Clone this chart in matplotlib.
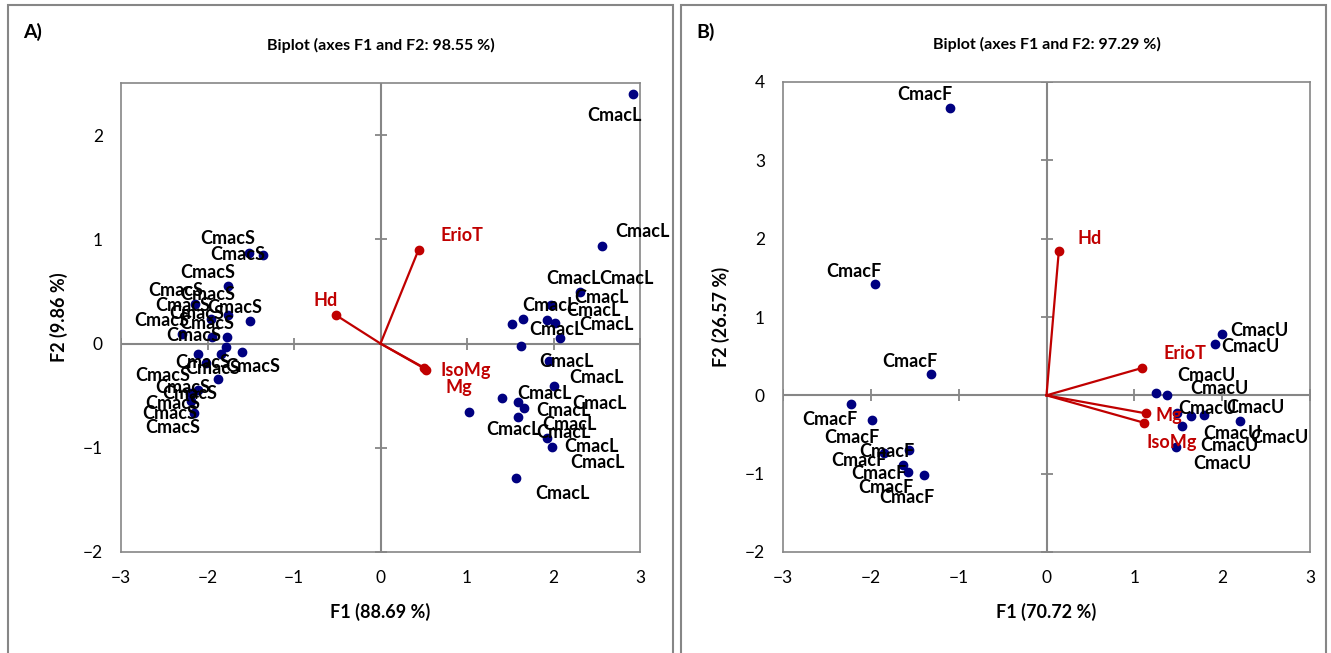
import matplotlib
matplotlib.use("Agg")
import matplotlib.pyplot as plt
from matplotlib.patches import Rectangle

plt.rcParams['font.family'] = ['Lato', 'DejaVu Sans']

# ---- panel A data ----
a_S_x = [-1.52, -1.36, -1.76, -2.14, -1.76, -1.51, -1.96, -1.77, -1.95, -2.30,
         -1.79, -1.84, -1.60, -2.11, -2.02, -1.88, -2.11, -2.20, -2.19, -2.16]
a_S_y = [0.87, 0.85, 0.55, 0.38, 0.27, 0.22, 0.24, 0.06, 0.06, 0.09,
         -0.03, -0.10, -0.08, -0.10, -0.19, -0.34, -0.45, -0.47, -0.55, -0.67]
a_L_x = [2.92, 2.56, 2.31, 1.97, 1.65, 1.52, 1.93, 2.02, 2.07, 1.62,
         1.95, 2.00, 1.41, 1.59, 1.66, 1.02, 1.59, 1.93, 1.98, 1.57]
a_L_y = [2.39, 0.94, 0.49, 0.37, 0.24, 0.19, 0.23, 0.20, 0.05, -0.02,
         -0.17, -0.41, -0.52, -0.56, -0.62, -0.66, -0.70, -0.91, -0.99, -1.29]
a_var_names = ["ErioT", "Hd", "IsoMg", "Mg"]
a_var_x = [0.44, -0.51, 0.53, 0.50]
a_var_y = [0.90, 0.27, -0.25, -0.23]

# ---- panel B data ----
b_F_x = [-1.10, -1.95, -1.31, -2.23, -1.99, -1.85, -1.56, -1.63, -1.58, -1.40]
b_F_y = [3.67, 1.42, 0.27, -0.11, -0.32, -0.74, -0.70, -0.89, -0.98, -1.02]
b_U_x = [2.00, 1.92, 1.25, 1.37, 1.49, 1.79, 2.20, 1.64, 1.54, 1.47]
b_U_y = [0.78, 0.66, 0.03, 0.00, -0.23, -0.25, -0.33, -0.27, -0.39, -0.66]
b_var_names = ["Hd", "ErioT", "Mg", "IsoMg"]
b_var_x = [0.14, 1.09, 1.13, 1.11]
b_var_y = [1.84, 0.35, -0.23, -0.35]

# label offsets in pixels (dx right, dy down)
a_S_off = [(-21, -14), (-25, 0), (-21, -14), (-20, -13), (-21, -21), (-15, -13), (-28, -13),
           (-21, -14), (-15, -24), (-20, -14), (-32, -11), (-19, 9), (11, 15), (15, 15),
           (-43, 12), (-35, 9), (-25, 13), (0, 1), (-21, 13), (-21, 14)]
a_L_off = [(-19, 21), (40, -14), (46, -14), (23, -26), (26, -13), (44, 6), (46, -9),
           (46, -25), (47, -14), (46, 16), (47, 16), (46, 17), (42, -4), (45, 9),
           (45, 16), (45, 17), (45, 16), (44, 8), (46, 16), (46, 15)]
a_var_off = [(43, -14), (-11, -15), (39, 1), (35, 20)]
b_F_off = [(-25, -13), (-21, -13), (-22, -13), (-21, 16), (-20, 17), (-25, 7), (-23, 1),
           (-24, 8), (-22, 15), (-17, 22)]
b_U_off = [(37, -4), (35, 3), (50, -17), (53, -7), (30, -5), (52, -7), (40, 16),
           (42, 17), (48, 20), (47, 16)]
b_var_off = [(31, -13), (43, -14), (23, 2), (28, 20)]

NAVY = "#000080"
RED = "#C00000"
GRAY = "#868686"
FS = 13


def label_points(ax, xs, ys, name, offsets, color):
    for x, y, (dx, dy) in zip(xs, ys, offsets):
        ax.annotate(name, (x, y), xytext=(dx, -dy), textcoords="offset pixels",
                    ha="center", va="center", fontsize=FS, fontweight="bold", color=color)


def biplot(ax, groups, var_names, var_x, var_y, var_off, xlim, ylim, yticks, title, xlabel, ylabel):
    ax.set_xlim(*xlim)
    ax.set_ylim(*ylim)
    ax.axhline(0, color=GRAY, lw=1.5, zorder=1)
    ax.axvline(0, color=GRAY, lw=1.5, zorder=1)
    xticks = list(range(xlim[0], xlim[1] + 1))
    ax.plot(xticks, [0] * len(xticks), ls="none", marker="|", ms=8, mew=1.3, color=GRAY, zorder=1)
    ax.plot([0] * len(yticks), yticks, ls="none", marker="_", ms=8, mew=1.3, color=GRAY, zorder=1)
    ax.set_xticks(xticks)
    ax.set_yticks(yticks)
    ax.tick_params(length=0, labelsize=12.5, pad=13)
    for s in ax.spines.values():
        s.set_color(GRAY)
        s.set_linewidth(1.2)

    for xs, ys, name, offs in groups:
        ax.scatter(xs, ys, s=36, color=NAVY, zorder=3)
        label_points(ax, xs, ys, name, offs, "black")

    for n, x, y in zip(var_names, var_x, var_y):
        ax.plot([0, x], [0, y], color=RED, lw=1.6, zorder=4)
    ax.scatter(var_x, var_y, s=36, color=RED, zorder=4)
    for n, x, y, (dx, dy) in zip(var_names, var_x, var_y, var_off):
        ax.annotate(n, (x, y), xytext=(dx, -dy), textcoords="offset pixels",
                    ha="center", va="center", fontsize=FS, fontweight="bold", color=RED, zorder=5)

    ax.set_title(title, fontsize=11.5, fontweight="bold", pad=24)
    ax.set_xlabel(xlabel, fontsize=13, fontweight="bold", labelpad=12)
    ax.set_ylabel(ylabel, fontsize=13, fontweight="bold", labelpad=11)


fig = plt.figure(figsize=(13.31, 6.53), dpi=100)
axA = fig.add_axes([121 / 1331, 1 - 552 / 653, (640 - 121) / 1331, (552 - 83) / 653])
axB = fig.add_axes([783 / 1331, 1 - 552 / 653, (1310 - 783) / 1331, (552 - 82) / 653])

biplot(axA, [(a_S_x, a_S_y, "CmacS", a_S_off), (a_L_x, a_L_y, "CmacL", a_L_off)],
       a_var_names, a_var_x, a_var_y, a_var_off, (-3, 3), (-2, 2.5), [-2, -1, 0, 1, 2],
       "Biplot (axes F1 and F2: 98.55 %)", "F1 (88.69 %)", "F2 (9.86 %)")
biplot(axB, [(b_F_x, b_F_y, "CmacF", b_F_off), (b_U_x, b_U_y, "CmacU", b_U_off)],
       b_var_names, b_var_x, b_var_y, b_var_off, (-3, 3), (-2, 4), [-2, -1, 0, 1, 2, 3, 4],
       "Biplot (axes F1 and F2: 97.29 %)", "F1 (70.72 %)", "F2 (26.57 %)")

# panel frames and letters
for x0, x1 in [(8, 673), (681, 1326)]:
    fig.patches.append(Rectangle((x0 / 1331, -0.05), (x1 - x0) / 1331, 1.05 - 5 / 653,
                                 transform=fig.transFigure, fill=False, ec=GRAY, lw=1.5))
fig.text(33 / 1331, 1 - 32 / 653, "A)", fontsize=14, fontweight="bold", ha="center", va="center")
fig.text(706 / 1331, 1 - 32 / 653, "B)", fontsize=14, fontweight="bold", ha="center", va="center")

fig.savefig("out.png", dpi=100)
